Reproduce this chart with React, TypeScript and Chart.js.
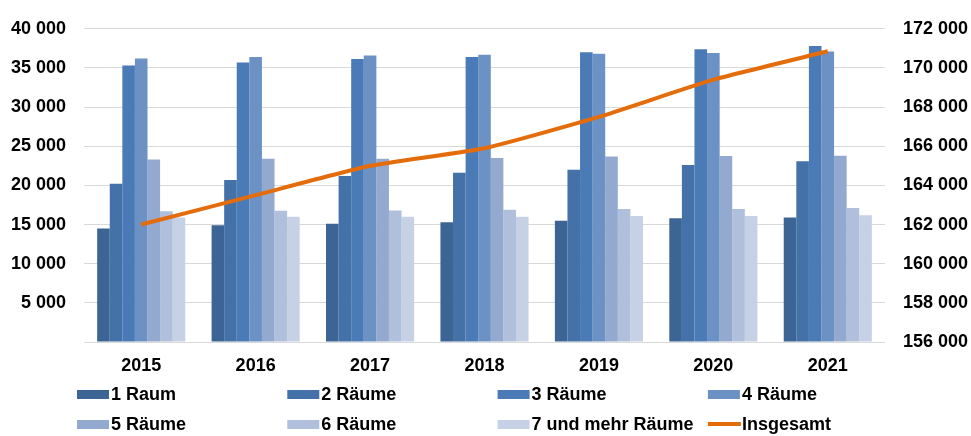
import React, { useEffect, useRef } from "react";
import { Chart, registerables } from "chart.js";

Chart.register(...registerables);

const categories = ["2015", "2016", "2017", "2018", "2019", "2020", "2021"];
const raum1 = [14500, 14900, 15100, 15300, 15500, 15800, 15900];
const raum2 = [20200, 20700, 21200, 21600, 22000, 22600, 23100];
const raum3 = [35300, 35700, 36150, 36400, 37000, 37400, 37800];
const raum4 = [36200, 36400, 36600, 36700, 36800, 36900, 37100];
const raum5 = [23300, 23400, 23400, 23500, 23700, 23750, 23800];
const raum6 = [16700, 16750, 16800, 16900, 17000, 17000, 17100];
const raum7 = [15900, 16000, 16000, 16000, 16100, 16100, 16200];
const insgesamt = [162000, 163500, 165000, 165900, 167500, 169400, 170850];

const barLabels = ["1 Raum", "2 Räume", "3 Räume", "4 Räume", "5 Räume", "6 Räume", "7 und mehr Räume"];
const lineLabel = "Insgesamt";
const barColors = ["#3c6495", "#4371a8", "#4a7bb7", "#6b91c5", "#94a9d0", "#afbfdc", "#c7d1e6"];
const lineColor = "#e46c0a";

const FONT = '"Liberation Sans", Arial, sans-serif';

const fmt = (v: number) => String(Math.round(v)).replace(/\B(?=(\d{3})+(?!\d))/g, " ");

const gridLegend = {
  id: "gridLegend",
  afterDraw(chart: any) {
    const ctx = chart.ctx;
    ctx.save();
    ctx.font = `bold 18px ${FONT}`;
    ctx.textBaseline = "middle";
    chart.data.datasets.forEach((ds: any, i: number) => {
      const col = i % 4;
      const row = Math.floor(i / 4);
      const x = 77 + col * 210.3;
      const y = 394 + row * 30;
      if (ds.type === "line") {
        ctx.fillStyle = ds.borderColor;
        ctx.fillRect(x, y - 2, 33, 4);
      } else {
        ctx.fillStyle = ds.backgroundColor;
        ctx.fillRect(x, y - 4, 32, 9);
      }
      ctx.fillStyle = "#000";
      ctx.fillText(ds.label, x + 34, y + 1);
    });
    ctx.restore();
  },
};

const series = [raum1, raum2, raum3, raum4, raum5, raum6, raum7];

export default function App() {
  const ref = useRef<HTMLCanvasElement | null>(null);
  useEffect(() => {
    document.body.style.margin = "0";
    if (!ref.current) return;
    const datasets: any[] = series.map((d, i) => ({
      type: "bar",
      label: barLabels[i],
      data: d,
      backgroundColor: barColors[i],
      borderWidth: 0,
      yAxisID: "y",
      order: 1,
      categoryPercentage: 0.77,
      barPercentage: 1,
    }));
    datasets.push({
      type: "line",
      label: lineLabel,
      data: insgesamt,
      borderColor: lineColor,
      backgroundColor: lineColor,
      borderWidth: 4,
      pointRadius: 0,
      tension: 0.15,
      yAxisID: "y1",
      order: 0,
    });
    const chart = new Chart(ref.current, {
      type: "bar",
      data: { labels: categories, datasets },
      options: {
        responsive: false,
        animation: false,
        layout: { padding: { top: 21, bottom: 54, left: 0, right: 0 } },
        plugins: { legend: { display: false }, tooltip: { enabled: false } },
        scales: {
          x: {
            grid: { display: false },
            border: { display: false },
            ticks: { color: "#000", font: { family: FONT, size: 18, weight: "bold" }, padding: 5 },
            afterFit: (s: any) => { s.height = 40; },
          },
          y: {
            position: "left",
            min: 0,
            max: 40000,
            grid: { color: "#d9d9d9", lineWidth: 1, drawTicks: false },
            border: { display: false },
            ticks: {
              stepSize: 5000,
              color: "#000",
              padding: 18,
              font: { family: FONT, size: 18, weight: "bold" },
              callback: (v: any) => (v === 0 ? "" : fmt(Number(v))),
            },
            afterFit: (s: any) => { s.width = 84; },
          },
          y1: {
            position: "right",
            min: 156000,
            max: 172000,
            grid: { display: false, drawTicks: false },
            border: { display: false },
            ticks: {
              stepSize: 2000,
              color: "#000",
              padding: 18,
              font: { family: FONT, size: 18, weight: "bold" },
              callback: (v: any) => fmt(Number(v)),
            },
            afterFit: (s: any) => { s.width = 86; },
          },
        },
      } as any,
      plugins: [gridLegend],
    });
    return () => chart.destroy();
  }, []);
  return (
    <div style={{ width: 971, height: 436, background: "#fff" }}>
      <canvas ref={ref} width={971} height={436} />
    </div>
  );
}
